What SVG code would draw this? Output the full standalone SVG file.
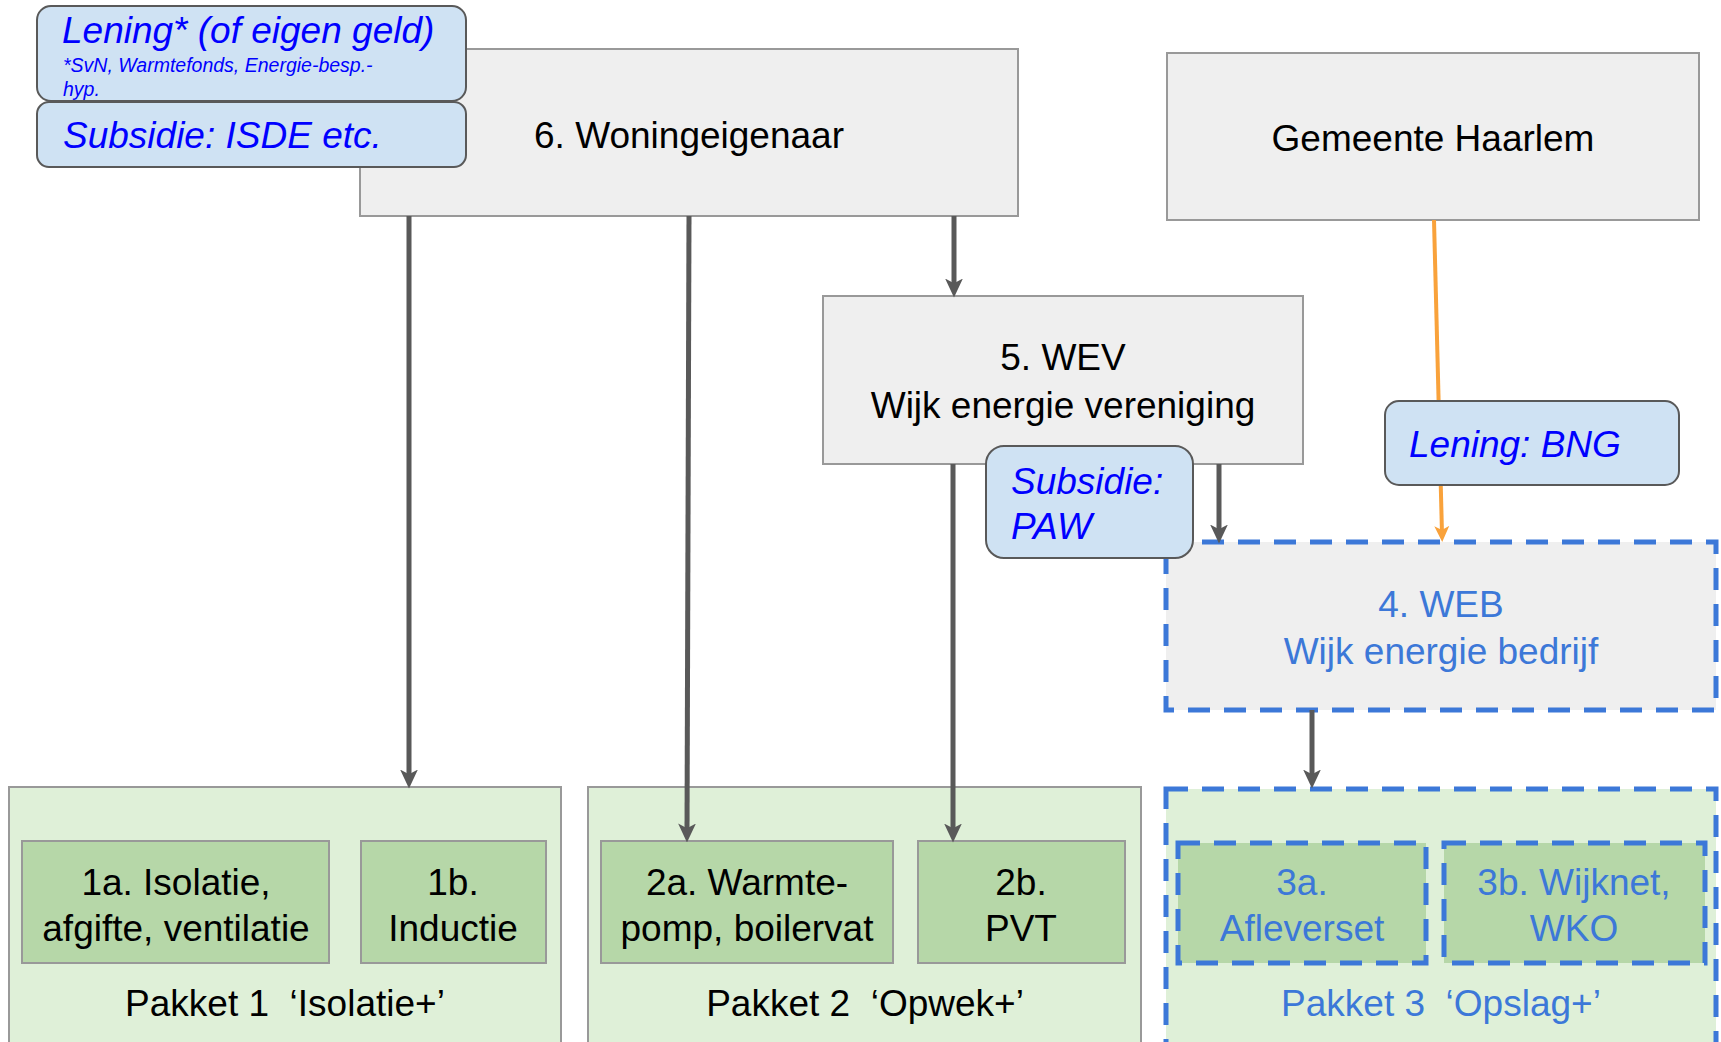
<svg xmlns="http://www.w3.org/2000/svg" width="1721" height="1042" viewBox="0 0 1721 1042">
<style>
text{font-family:"Liberation Sans",Arial,sans-serif;font-size:37px;white-space:pre}
.c{text-anchor:middle}
.k{fill:#000}
.b{fill:#3c78d8}
.fin{fill:#0000ff;font-style:italic}
.gray{fill:#efefef;stroke:#999;stroke-width:2}
.pk{fill:#dff0d8;stroke:#999;stroke-width:2}
.in{fill:#b6d7a8;stroke:#999;stroke-width:2}
.dash{stroke:#3c78d8;stroke-width:5;stroke-dasharray:22 14}
.fbox{fill:#cfe2f3;stroke:#595959;stroke-width:2}
.conn{stroke:#595959;stroke-width:5;fill:none}
.or{stroke:#f9a23b;stroke-width:4;fill:none}
</style>
<defs>
<marker id="ah" markerUnits="userSpaceOnUse" viewBox="0 0 16 16" markerWidth="19" markerHeight="19" refX="8" refY="8" orient="auto">
<path d="M0,0.5 L16,8 L0,15.5 L4,8 z" fill="#595959"/>
</marker>
<marker id="ao" markerUnits="userSpaceOnUse" viewBox="0 0 16 16" markerWidth="16" markerHeight="16" refX="8" refY="8" orient="auto">
<path d="M0,0.5 L16,8 L0,15.5 L4,8 z" fill="#f9a23b"/>
</marker>
</defs>
<rect width="1721" height="1042" fill="#fff"/>

<g id="woningeigenaar">
<rect class="gray" x="360" y="49" width="658" height="167"/>
<text class="c k" x="689" y="148">6. Woningeigenaar</text>
</g>
<g id="gemeente">
<rect class="gray" x="1167" y="53" width="532" height="167"/>
<text class="c k" x="1433" y="151">Gemeente Haarlem</text>
</g>
<g id="wev">
<rect class="gray" x="823" y="296" width="480" height="168"/>
<text class="c k" x="1063" y="370">5. WEV</text>
<text class="c k" x="1063" y="418">Wijk energie vereniging</text>
</g>
<g id="web">
<rect class="gray dash" x="1166" y="542" width="550" height="168" style="stroke:#3c78d8;stroke-width:5"/>
<text class="c b" x="1441" y="617">4. WEB</text>
<text class="c b" x="1441" y="664">Wijk energie bedrijf</text>
</g>

<g id="pakket1">
<rect class="pk" x="9" y="787" width="552" height="270"/>
<text class="c k" x="285" y="1016">Pakket 1  ‘Isolatie+’</text>
</g>
<g id="n1a">
<rect class="in" x="22" y="841" width="307" height="122"/>
<text class="c k" x="176" y="895">1a. Isolatie,</text>
<text class="c k" x="176" y="941">afgifte, ventilatie</text>
</g>
<g id="n1b">
<rect class="in" x="361" y="841" width="185" height="122"/>
<text class="c k" x="453" y="895">1b.</text>
<text class="c k" x="453" y="941">Inductie</text>
</g>

<g id="pakket2">
<rect class="pk" x="588" y="787" width="553" height="270"/>
<text class="c k" x="865" y="1016">Pakket 2  ‘Opwek+’</text>
</g>
<g id="n2a">
<rect class="in" x="601" y="841" width="292" height="122"/>
<text class="c k" x="747" y="895">2a. Warmte-</text>
<text class="c k" x="747" y="941">pomp, boilervat</text>
</g>
<g id="n2b">
<rect class="in" x="918" y="841" width="207" height="122"/>
<text class="c k" x="1021" y="895">2b.</text>
<text class="c k" x="1021" y="941">PVT</text>
</g>

<g id="pakket3">
<rect class="pk dash" x="1166" y="789" width="550" height="270" style="stroke:#3c78d8;stroke-width:5"/>
<text class="c b" x="1441" y="1016">Pakket 3  ‘Opslag+’</text>
</g>
<g id="n3a">
<rect class="in dash" x="1178" y="843" width="248" height="120" style="stroke:#3c78d8;stroke-width:5"/>
<text class="c b" x="1302" y="895">3a.</text>
<text class="c b" x="1302" y="941">Afleverset</text>
</g>
<g id="n3b">
<rect class="in dash" x="1444" y="843" width="261" height="120" style="stroke:#3c78d8;stroke-width:5"/>
<text class="c b" x="1574" y="895">3b. Wijknet,</text>
<text class="c b" x="1574" y="941">WKO</text>
</g>

<g id="connectors">
<line class="conn" x1="409" y1="216" x2="409" y2="779" marker-end="url(#ah)"/>
<line class="conn" x1="689" y1="216" x2="687" y2="833" marker-end="url(#ah)"/>
<line class="conn" x1="954" y1="216" x2="954" y2="288" marker-end="url(#ah)"/>
<line class="conn" x1="953" y1="464" x2="953" y2="833" marker-end="url(#ah)"/>
<line class="conn" x1="1219" y1="464" x2="1219" y2="534" marker-end="url(#ah)"/>
<line class="conn" x1="1312" y1="710" x2="1312" y2="779" marker-end="url(#ah)"/>
<line class="or" x1="1434" y1="220" x2="1442" y2="534" marker-end="url(#ao)"/>
</g>

<g id="lening-eigen">
<rect class="fbox" x="37" y="6" width="429" height="95" rx="14"/>
<text class="fin" x="62" y="43">Lening* (of eigen geld)</text>
<text class="fin" x="63" y="72" style="font-size:19.5px">*SvN, Warmtefonds, Energie-besp.-</text>
<text class="fin" x="63" y="96" style="font-size:19.5px">hyp.</text>
</g>
<g id="subsidie-isde">
<rect class="fbox" x="37" y="102" width="429" height="65" rx="12"/>
<text class="fin" x="63" y="148">Subsidie: ISDE etc.</text>
</g>
<g id="subsidie-paw">
<rect class="fbox" x="986" y="446" width="207" height="112" rx="18"/>
<text class="fin" x="1011" y="494">Subsidie:</text>
<text class="fin" x="1011" y="539">PAW</text>
</g>
<g id="lening-bng">
<rect class="fbox" x="1385" y="401" width="294" height="84" rx="14"/>
<text class="fin" x="1409" y="457">Lening: BNG</text>
</g>
</svg>
